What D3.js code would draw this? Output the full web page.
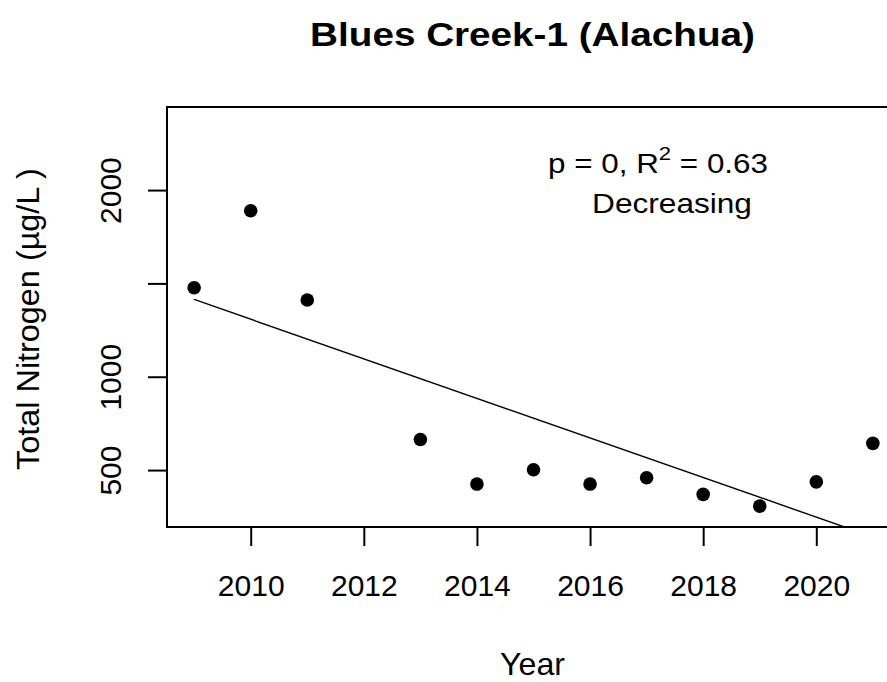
<!DOCTYPE html>
<html>
<head>
<meta charset="utf-8">
<script src="https://cdn.jsdelivr.net/npm/d3@7"></script>
<style>
  html, body { margin: 0; padding: 0; background: #fff; }
  text { font-family: "Liberation Sans", Arial, sans-serif; fill: #000; }
</style>
</head>
<body>
<svg id="chart" width="887" height="682"></svg>
<script>
// ---- data ----
const years = [2009, 2010, 2011, 2013, 2014, 2015, 2016, 2017, 2018, 2019, 2020, 2021];
const totalNitrogen = [1477, 1889, 1411, 664, 425, 502, 425, 459, 370, 307, 437, 643];
const trendYears = [2009, 2021];
const trendValues = [1414, 142];
const xTicks = [2010, 2012, 2014, 2016, 2018, 2020];
const yTicks = [500, 1000, 1500, 2000];
const yTickLabels = ["500", "1000", "", "2000"];
const titleText = "Blues Creek-1 (Alachua)";
const xLabel = "Year";
const yLabel = "Total Nitrogen (\u00b5g/L )";
const statP = "p = 0, R";
const statR2 = " = 0.63";
const trendLabel = "Decreasing";

// ---- layout ----
const svg = d3.select("#chart");
const plot = { left: 167, right: 900, top: 107, bottom: 527 };

const x = d3.scaleLinear().domain([2008.52, 2021.48]).range([plot.left, plot.right]);
const y = d3.scaleLinear().domain([195, 2445]).range([plot.bottom, plot.top]);

// helper: fit text horizontally to a target width
function fitWidth(sel, cx, cy, target) {
  const w = sel.node().getComputedTextLength();
  const sx = target / w;
  sel.attr("x", 0).attr("y", 0).attr("text-anchor", "middle")
     .attr("transform", `translate(${cx},${cy}) scale(${sx},1)`);
}

// clip for plot region
svg.append("defs").append("clipPath").attr("id", "plotclip")
  .append("rect").attr("x", plot.left).attr("y", plot.top)
  .attr("width", plot.right - plot.left).attr("height", plot.bottom - plot.top);

// trend line
const line = d3.line().x((d, i) => x(trendYears[i])).y(d => y(d));
svg.append("path")
  .attr("clip-path", "url(#plotclip)")
  .attr("d", line(trendValues))
  .attr("fill", "none").attr("stroke", "#000").attr("stroke-width", 1.4);

// points
svg.append("g").selectAll("circle").data(years).join("circle")
  .attr("cx", d => x(d))
  .attr("cy", (d, i) => y(totalNitrogen[i]))
  .attr("r", 6.8)
  .attr("fill", "#000");

// box
svg.append("rect")
  .attr("x", plot.left).attr("y", plot.top)
  .attr("width", plot.right - plot.left).attr("height", plot.bottom - plot.top)
  .attr("fill", "none").attr("stroke", "#000").attr("stroke-width", 2);

// x axis
const xAxis = d3.axisBottom(x).tickValues(xTicks).tickSize(19).tickPadding(47).tickFormat(d3.format("d"));
const gx = svg.append("g").attr("transform", `translate(0,${plot.bottom})`).call(xAxis);
gx.select(".domain").remove();
gx.selectAll(".tick line").attr("stroke", "#000").attr("stroke-width", 2);
gx.selectAll(".tick text").attr("font-size", 30).attr("dy", 0).attr("y", 69)
  .style("font-family", '"Liberation Sans", Arial, sans-serif').attr("fill", "#000");

// y axis
const yAxis = d3.axisLeft(y).tickValues(yTicks).tickSize(19)
  .tickFormat((d, i) => yTickLabels[i]);
const gy = svg.append("g").attr("transform", `translate(${plot.left},0)`).call(yAxis);
gy.select(".domain").remove();
gy.selectAll(".tick line").attr("stroke", "#000").attr("stroke-width", 2);
gy.selectAll(".tick text")
  .attr("font-size", 30)
  .attr("x", 0).attr("dy", 0).attr("y", 0)
  .attr("text-anchor", "middle")
  .attr("transform", `translate(${121 - plot.left},0) rotate(-90)`)
  .style("font-family", '"Liberation Sans", Arial, sans-serif').attr("fill", "#000");

// title
const t = svg.append("text").attr("font-size", 33).attr("font-weight", "bold").text(titleText);
fitWidth(t, 532.5, 46, 445);

// axis titles
const xl = svg.append("text").attr("font-size", 31).text(xLabel);
fitWidth(xl, 532.5, 675, 65);

const yl = svg.append("text").attr("font-size", 31).text(yLabel)
  .attr("text-anchor", "middle");
const ylw = yl.node().getComputedTextLength();
yl.attr("x", 0).attr("y", 0)
  .attr("transform", `translate(39,319) rotate(-90) scale(${302 / ylw},1)`);

// annotation
const a1 = svg.append("text").attr("font-size", 27);
a1.append("tspan").text(statP);
a1.append("tspan").attr("font-size", 19).attr("dy", -13).text("2");
a1.append("tspan").attr("dy", 13).text(statR2);
fitWidth(a1, 658, 173, 220);

const a2 = svg.append("text").attr("font-size", 27).text(trendLabel);
fitWidth(a2, 672, 213, 160);
</script>
</body>
</html>
